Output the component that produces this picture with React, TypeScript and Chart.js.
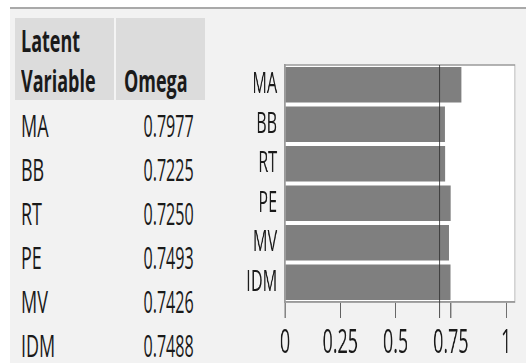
import React, { useEffect, useRef } from "react";
import { Chart, registerables } from "chart.js";

Chart.register(...registerables);

const categories = ["MA", "BB", "RT", "PE", "MV", "IDM"];
const omegaValues = [0.7977, 0.7225, 0.725, 0.7493, 0.7426, 0.7488];
const omegaLabels = ["0.7977", "0.7225", "0.7250", "0.7493", "0.7426", "0.7488"];
const tickValues = [0, 0.25, 0.5, 0.75, 1];
const tickLabels = ["0", "0.25", "0.5", "0.75", "1"];
const referenceValue = 0.7;
const axisMax = 1.04;

const FONT = "'Open Sans', 'Noto Sans', sans-serif";
const CHART_SCALE = 0.56;
const CHART_LEFT = 200;
const CHART_W = 326;
const H = 363;

const refLinePlugin = {
  id: "refLine",
  beforeDraw(chart: any) {
    const { ctx, chartArea } = chart;
    ctx.save();
    ctx.fillStyle = "#ffffff";
    ctx.fillRect(chartArea.left, chartArea.top, chartArea.right - chartArea.left, chartArea.bottom - chartArea.top);
    ctx.restore();
  },
  afterDraw(chart: any) {
    const { ctx, chartArea, scales } = chart;
    ctx.save();
    ctx.strokeStyle = "#9a9a9a";
    ctx.lineWidth = 1.5;
    ctx.strokeRect(chartArea.left, chartArea.top, chartArea.right - chartArea.left, chartArea.bottom - chartArea.top);
    const x = scales.x.getPixelForValue(referenceValue);
    ctx.strokeStyle = "#333333";
    ctx.lineWidth = 1 / CHART_SCALE;
    ctx.beginPath();
    ctx.moveTo(x, chartArea.top);
    ctx.lineTo(x, chartArea.bottom + 16);
    ctx.stroke();
    ctx.restore();
  },
};

function ChartPart() {
  const ref = useRef<HTMLCanvasElement | null>(null);
  useEffect(() => {
    if (!ref.current) return;
    const innerW = CHART_W / CHART_SCALE;
    const plotLeft = (285 - CHART_LEFT) / CHART_SCALE;
    const plotRight = (515 - CHART_LEFT) / CHART_SCALE;
    const chart = new Chart(ref.current, {
      type: "bar",
      data: {
        labels: categories,
        datasets: [
          {
            data: omegaValues,
            backgroundColor: "#7f7f7f",
            barPercentage: 0.9,
            categoryPercentage: 1,
          },
        ],
      },
      options: {
        indexAxis: "y",
        responsive: false,
        animation: false,
        devicePixelRatio: 1,
        layout: { padding: { top: 65, right: innerW - plotRight, bottom: 0, left: 0 } },
        plugins: { legend: { display: false }, tooltip: { enabled: false } },
        scales: {
          x: {
            type: "linear",
            min: 0,
            max: axisMax,
            afterBuildTicks: (s: any) => {
              s.ticks = tickValues.map((v) => ({ value: v }));
            },
            afterFit: (s: any) => {
              s.height = H - 302;
            },
            ticks: {
              autoSkip: false,
              maxRotation: 0,
              color: "#1a1a1a",
              padding: 7,
              font: { family: FONT, size: 32, weight: 500 },
              callback: (v: any) => tickLabels[tickValues.indexOf(Number(v))] ?? "",
            },
            grid: {
              drawOnChartArea: false,
              drawTicks: true,
              tickLength: 16,
              color: "#555",
              lineWidth: 1 / CHART_SCALE,
            },
            border: { display: true, color: "#9a9a9a", width: 1.5 },
          },
          y: {
            type: "category",
            afterFit: (s: any) => {
              s.width = plotLeft;
            },
            ticks: {
              color: "#1a1a1a",
              padding: 6,
              font: { family: FONT, size: 29, weight: 500 },
            },
            grid: { display: false },
            border: { display: true, color: "#9a9a9a", width: 1.5 / CHART_SCALE },
          },
        },
      },
      plugins: [refLinePlugin],
    } as any);
    return () => chart.destroy();
  }, []);
  const innerW = CHART_W / CHART_SCALE;
  return (
    <div
      style={{
        position: "absolute",
        left: CHART_LEFT,
        top: 0,
        width: innerW,
        height: H,
        transform: `scaleX(${CHART_SCALE})`,
        transformOrigin: "0 0",
      }}
    >
      <canvas ref={ref} width={innerW} height={H} style={{ width: innerW, height: H, display: "block" }} />
    </div>
  );
}

const LETTER_SCALE = 0.58;
const DIGIT_SCALE = 0.52;
const TFONT = 31;
// baseline offset for Open Sans with line-height = font size
const BASE_OFF = 0.888 * TFONT;

function Text(props: { text: string; x: number; baseline: number; align: "left" | "right"; scale: number; weight?: number }) {
  const { text, x, baseline, align, scale, weight } = props;
  const style: any = {
    position: "absolute",
    top: baseline - BASE_OFF,
    fontFamily: FONT,
    fontSize: TFONT,
    lineHeight: `${TFONT}px`,
    fontWeight: weight ?? 500,
    color: "#1a1a1a",
    whiteSpace: "nowrap",
    transform: `scaleX(${scale})`,
  };
  if (align === "left") {
    style.left = x;
    style.transformOrigin = "0 0";
  } else {
    style.right = 526 - x;
    style.transformOrigin = "100% 0";
  }
  return <div style={style}>{text}</div>;
}

export default function App() {
  return (
    <div style={{ position: "fixed", left: 0, top: 0, width: 526, height: H, overflow: "hidden", background: "#ffffff" }}>
      <div style={{ position: "absolute", left: 10, top: 7, right: 0, bottom: 0, background: "#f2f2f2" }} />
      <div style={{ position: "absolute", left: 10, top: 7, right: 0, height: 2, background: "#a9a9a9" }} />
      <div style={{ position: "absolute", left: 15, top: 18, width: 190, height: 82, background: "#dcdcdc" }} />
      <div style={{ position: "absolute", left: 114, top: 18, width: 2, height: 82, background: "#f4f4f4" }} />
      <Text text="Latent" x={21} baseline={53} align="left" scale={LETTER_SCALE} weight={700} />
      <Text text="Variable" x={21} baseline={93} align="left" scale={LETTER_SCALE} weight={700} />
      <Text text="Omega" x={124} baseline={93} align="left" scale={LETTER_SCALE} weight={700} />
      {categories.map((c, i) => (
        <Text key={c} text={c} x={21} baseline={138 + 44 * i} align="left" scale={LETTER_SCALE} />
      ))}
      {omegaLabels.map((v, i) => (
        <Text key={i} text={v} x={194} baseline={138 + 44 * i} align="right" scale={DIGIT_SCALE} />
      ))}
      <ChartPart />
    </div>
  );
}
